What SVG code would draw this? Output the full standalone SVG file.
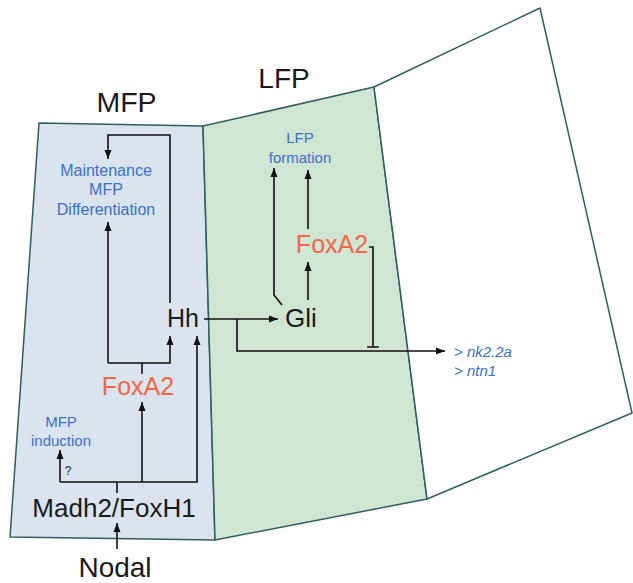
<svg xmlns="http://www.w3.org/2000/svg" width="633" height="583" viewBox="0 0 633 583">
<defs>
<style>
.region{stroke:#2f5d60;stroke-width:1.5;stroke-linejoin:round}
.ln{fill:none;stroke:#111;stroke-width:1.6}
.t{font-family:"Liberation Sans",Arial,sans-serif;text-anchor:middle;fill:#1a1a1a}
.blue{fill:#3b6fc8}
.orange{fill:#f0674a}
.it{font-style:italic;text-anchor:start}
</style>
<marker id="arr" markerUnits="userSpaceOnUse" markerWidth="10" markerHeight="10" viewBox="0 0 10 10" refX="9" refY="5" orient="auto">
<path d="M0,1.5 L9,5 L0,8.5 Z" fill="#111"/>
</marker>
</defs>
<rect width="633" height="583" fill="#fff"/>
<g id="regions">
<polygon id="mfp-region" class="region" fill="#dae4ee" points="39,123 203,126 215,540 10,537"/>
<polygon id="lfp-region" class="region" fill="#d0e6d3" points="203,126 374,87 427,499 215,540"/>
<polygon id="outer-region" class="region" fill="#fff" points="374,87 540,8 632,413 427,499"/>
</g>
<g id="connectors">
<path class="ln" d="M170,303 V135 H108 V159" marker-end="url(#arr)"/>
<path class="ln" d="M108,363 V222" marker-end="url(#arr)"/>
<path class="ln" d="M108,363 H170 V336" marker-end="url(#arr)"/>
<path class="ln" d="M142,374 V363"/>
<path class="ln" d="M142,482 V402" marker-end="url(#arr)"/>
<path class="ln" d="M60,482 H197 V336" marker-end="url(#arr)"/>
<path class="ln" d="M60,482 V450" marker-end="url(#arr)"/>
<path class="ln" d="M117,493 V482"/>
<path class="ln" d="M117,549 V523" marker-end="url(#arr)"/>
<path class="ln" d="M204,319 H278" marker-end="url(#arr)"/>
<path class="ln" d="M237,319 V351 H445" marker-end="url(#arr)"/>
<path class="ln" d="M282,305 L274,295 V168" marker-end="url(#arr)"/>
<path class="ln" d="M308,300 V262" marker-end="url(#arr)"/>
<path class="ln" d="M308,229 V170" marker-end="url(#arr)"/>
<path class="ln" d="M369,247 H373 V347 M367,347 H379"/>
</g>
<g id="label-mfp"><text class="t" x="126.5" y="112" font-size="28.5">MFP</text></g>
<g id="label-lfp"><text class="t" x="284" y="88" font-size="28">LFP</text></g>
<g id="maintenance">
<text class="t blue" x="106" y="176" font-size="16">Maintenance</text>
<text class="t blue" x="106" y="195" font-size="16">MFP</text>
<text class="t blue" x="106" y="215" font-size="16">Differentiation</text>
</g>
<g id="hh"><text class="t" x="183" y="327" font-size="25">Hh</text></g>
<g id="foxa2-mfp"><text class="t orange" x="138" y="395" font-size="25">FoxA2</text></g>
<g id="mfp-induction">
<text class="t blue" x="61" y="427" font-size="15">MFP</text>
<text class="t blue" x="61" y="446" font-size="15">induction</text>
<text class="t" x="68" y="475" font-size="12">?</text>
</g>
<g id="madh2"><text class="t" x="114" y="517" font-size="26">Madh2/FoxH1</text></g>
<g id="nodal"><text class="t" x="115" y="577" font-size="28">Nodal</text></g>
<g id="gli"><text class="t" x="301" y="327" font-size="26">Gli</text></g>
<g id="foxa2-lfp"><text class="t orange" x="332" y="253" font-size="25">FoxA2</text></g>
<g id="lfp-formation">
<text class="t blue" x="300" y="143" font-size="15">LFP</text>
<text class="t blue" x="300" y="163" font-size="15">formation</text>
</g>
<g id="targets">
<text class="t blue it" x="454" y="357" font-size="15">&gt; nk2.2a</text>
<text class="t blue it" x="454" y="376" font-size="15">&gt; ntn1</text>
</g>
</svg>
